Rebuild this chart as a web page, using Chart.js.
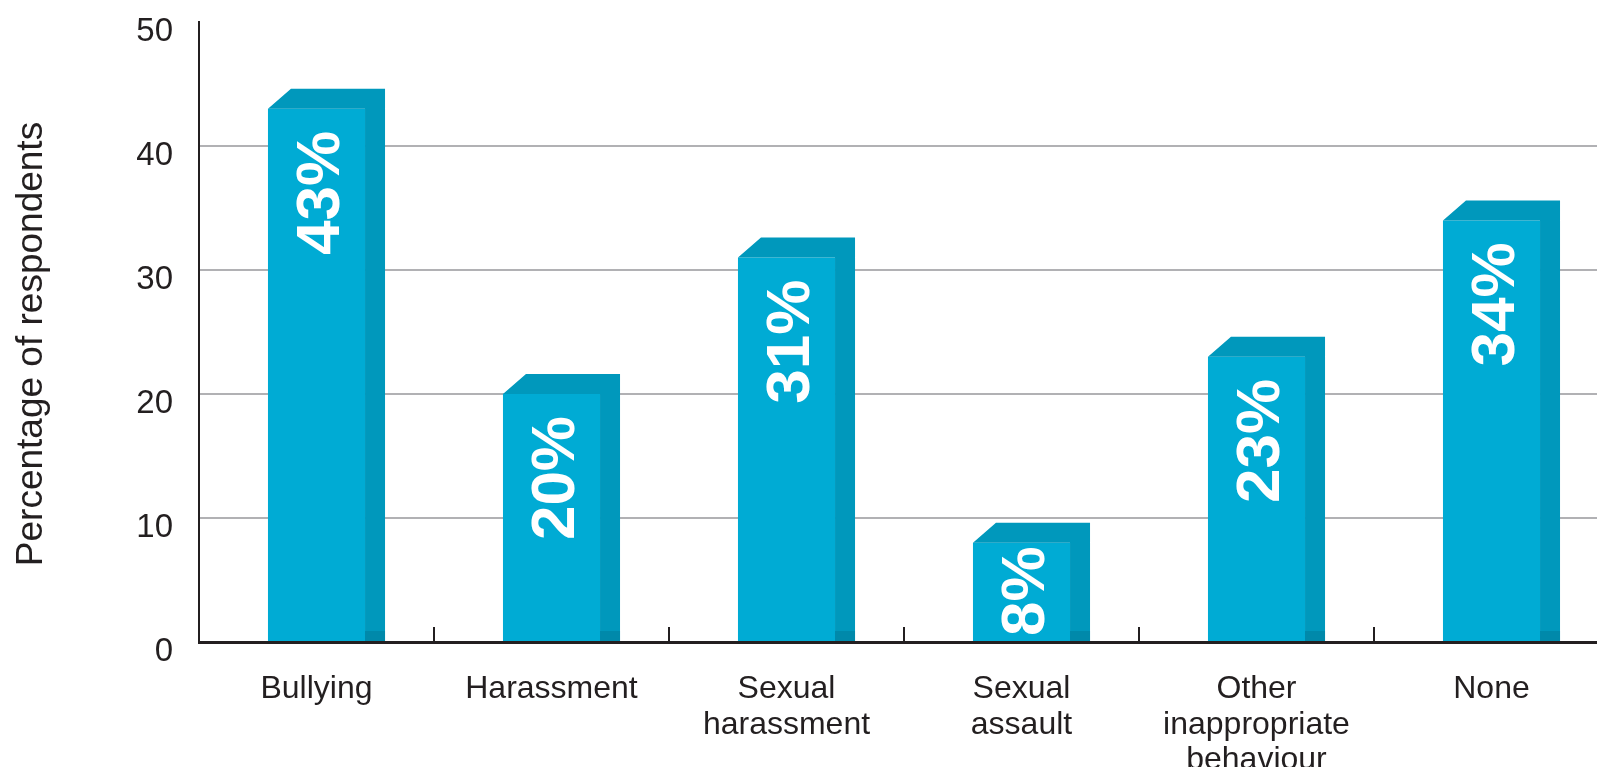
<!DOCTYPE html>
<html>
<head>
<meta charset="utf-8">
<script src="https://cdn.jsdelivr.net/npm/chart.js@4/dist/chart.umd.min.js"></script>
<style>
  html, body { margin: 0; padding: 0; background: #ffffff; overflow: hidden; }
  canvas { display: block; }
</style>
</head>
<body>
<canvas id="chart" width="1612" height="767"></canvas>
<script>
// Survey categories (multi-line labels as arrays)
const categories = [
  'Bullying',
  'Harassment',
  ['Sexual', 'harassment'],
  ['Sexual', 'assault'],
  ['Other', 'inappropriate', 'behaviour'],
  'None'
];
// Share of respondents per category (%)
const percentages = [43, 20, 31, 8, 23, 34];
// Text printed inside each bar
const valueLabels = ['43%', '20%', '31%', '8%', '23%', '34%'];
// Y axis range and step
const yMin = 0;
const yMax = 50;
const yStep = 10;
const yTitle = 'Percentage of respondents';

const FRONT = '#00abd4';
const SIDE = '#0098bc';
const SIDE_BOTTOM = '#0089aa';
const INK = '#231f20';
const GRID = '#b1b1b4';
const FONT = '"Liberation Sans", Arial, Helvetica, sans-serif';

// Extruded look: top and right faces plus the value text inside the bar
const extrudedBars = {
  id: 'extrudedBars',
  afterDatasetsDraw(chart) {
    const ctx = chart.ctx;
    const meta = chart.getDatasetMeta(0);
    const depth = 20, rise = 20, slant = 23;
    meta.data.forEach((bar, i) => {
      const { x, y, base, width } = bar.getProps(['x', 'y', 'base', 'width'], true);
      const l = x - width / 2;
      const r = x + width / 2;
      ctx.save();
      ctx.fillStyle = SIDE;
      ctx.beginPath();
      ctx.moveTo(l, y);
      ctx.lineTo(l + slant, y - rise);
      ctx.lineTo(r + depth, y - rise);
      ctx.lineTo(r + depth, base);
      ctx.lineTo(r, base);
      ctx.lineTo(r, y);
      ctx.closePath();
      ctx.fill();
      ctx.fillStyle = SIDE_BOTTOM;
      ctx.fillRect(r, base - 10, depth, 10);

      // rotated value text, reading bottom to top
      const size = 62;
      ctx.font = 'bold ' + size + 'px ' + FONT;
      const txt = valueLabels[i];
      const w = ctx.measureText(txt).width;
      const top = Math.min(y + 22, base - 5 - w);
      ctx.translate(x, top);
      ctx.rotate(-Math.PI / 2);
      ctx.fillStyle = '#ffffff';
      ctx.textAlign = 'right';
      ctx.textBaseline = 'alphabetic';
      ctx.fillText(txt, 0, size * 0.358);
      ctx.restore();
    });
  }
};

// Short upward ticks on the category axis between the bars
const categoryTicks = {
  id: 'categoryTicks',
  beforeDatasetsDraw(chart) {
    const ctx = chart.ctx;
    const xs = chart.scales.x;
    const base = chart.chartArea.bottom;
    const n = categories.length;
    const step = (xs.right - xs.left) / n;
    ctx.save();
    ctx.strokeStyle = INK;
    ctx.lineWidth = 2;
    for (let i = 1; i <= n; i++) {
      const px = Math.round(xs.left + i * step);
      ctx.beginPath();
      ctx.moveTo(px, base - 15);
      ctx.lineTo(px, base);
      ctx.stroke();
    }
    ctx.restore();
  }
};

// Vertical axis title, placed beside the value axis
const axisTitle = {
  id: 'axisTitle',
  afterDraw(chart) {
    const ctx = chart.ctx;
    ctx.save();
    ctx.translate(42, 344);
    ctx.rotate(-Math.PI / 2);
    ctx.font = '37px ' + FONT;
    ctx.fillStyle = INK;
    ctx.textAlign = 'center';
    ctx.textBaseline = 'alphabetic';
    ctx.fillText(yTitle, 0, 0);
    ctx.restore();
  }
};

new Chart(document.getElementById('chart'), {
  type: 'bar',
  data: {
    labels: categories,
    datasets: [{
      data: percentages,
      backgroundColor: FRONT,
      borderWidth: 0,
      barPercentage: 0.413,
      categoryPercentage: 1.0
    }]
  },
  options: {
    responsive: false,
    animation: false,
    devicePixelRatio: 1,
    layout: { padding: { top: 22, left: 0, right: 3, bottom: 0 } },
    plugins: {
      legend: { display: false },
      tooltip: { enabled: false }
    },
    scales: {
      x: {
        offset: true,
        grid: { display: true, drawOnChartArea: false, drawTicks: false, color: 'rgba(0,0,0,0)' },
        border: { display: true, color: INK, width: 3 },
        ticks: {
          color: INK,
          padding: 30,
          maxRotation: 0,
          autoSkip: false,
          font: { family: FONT, size: 32, lineHeight: 1.1 }
        },
        afterFit(scale) {
          scale.height = 125;
          scale.paddingLeft = 0;
          scale.paddingRight = 0;
        }
      },
      y: {
        min: yMin,
        max: yMax,
        grid: {
          drawTicks: false,
          lineWidth: 2,
          color: (c) => (c.tick && (c.tick.value === yMax || c.tick.value === yMin)) ? 'rgba(0,0,0,0)' : GRID
        },
        border: { display: true, color: INK, width: 2 },
        ticks: {
          stepSize: yStep,
          color: INK,
          padding: 26,
          labelOffset: 10,
          font: { family: FONT, size: 33 }
        },
        title: { display: false },
        afterFit(scale) {
          scale.width = 199;
          scale.paddingTop = 0;
          scale.paddingBottom = 0;
        }
      }
    }
  },
  plugins: [categoryTicks, extrudedBars, axisTitle]
});
</script>
</body>
</html>
